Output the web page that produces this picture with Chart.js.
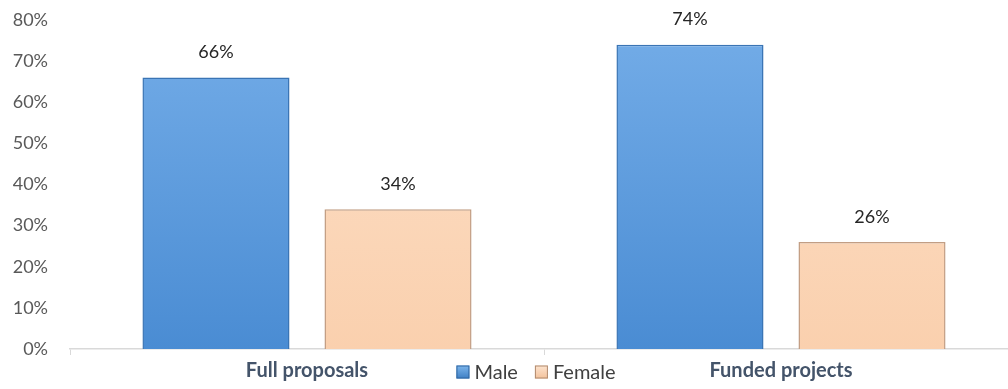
<!DOCTYPE html>
<html>
<head>
<meta charset="utf-8">
<script src="https://cdn.jsdelivr.net/npm/chart.js@4/dist/chart.umd.min.js"></script>
<style>
  body { margin: 0; background: #fff; overflow: hidden; }
  #wrap { width: 1018px; height: 389px; position: relative; }
</style>
</head>
<body>
<div id="wrap"><canvas id="chart"></canvas></div>
<script>
const categories = ['Full proposals', 'Funded projects'];
const seriesNames = ['Male', 'Female'];
const maleValues = [66, 74];
const femaleValues = [34, 26];
const yTicks = [0, 10, 20, 30, 40, 50, 60, 70, 80];

const FONT = 'Lato, "Open Sans", sans-serif';

// vertical gradient across the plot area
function grad(ctx, top, bottom) {
  const chart = ctx.chart;
  const area = chart.chartArea;
  if (!area) return top;
  const g = chart.ctx.createLinearGradient(0, area.top, 0, area.bottom);
  g.addColorStop(0, top);
  g.addColorStop(1, bottom);
  return g;
}

// value labels above each bar
const valueLabels = {
  id: 'valueLabels',
  afterDatasetsDraw(chart) {
    const c = chart.ctx;
    c.save();
    c.font = '18px ' + FONT;
    c.fillStyle = '#262626';
    c.textAlign = 'center';
    c.textBaseline = 'bottom';
    chart.data.datasets.forEach((ds, i) => {
      chart.getDatasetMeta(i).data.forEach((bar, j) => {
        c.fillText(ds.data[j] + '%', bar.x, bar.y - 16);
      });
    });
    c.restore();
  }
};

// legend sits on the category label row, between the two categories
const inlineLegend = {
  id: 'inlineLegend',
  afterDraw(chart) {
    const c = chart.ctx;
    const xs = chart.scales.x;
    const mid = (xs.getPixelForValue(0) + xs.getPixelForValue(1)) / 2 - 8;
    const y = 372;
    const box = 13, gapIcon = 5, gapItem = 17;
    c.save();
    c.font = '20px ' + FONT;
    c.textBaseline = 'middle';
    const items = chart.data.datasets.map(ds => ({ label: ds.label, colors: ds.legendColors }));
    let total = 0;
    items.forEach((it, k) => {
      it.w = box + gapIcon + c.measureText(it.label).width;
      total += it.w + (k > 0 ? gapItem : 0);
    });
    let x = mid - total / 2;
    items.forEach(it => {
      const g = c.createLinearGradient(0, y - box / 2, 0, y + box / 2);
      g.addColorStop(0, it.colors[0]);
      g.addColorStop(1, it.colors[1]);
      c.fillStyle = g;
      c.fillRect(x, y - box / 2, box, box);
      c.strokeStyle = it.colors[2];
      c.lineWidth = 1;
      c.strokeRect(x + 0.5, y - box / 2 + 0.5, box - 1, box - 1);
      c.fillStyle = '#404040';
      c.textAlign = 'left';
      c.fillText(it.label, x + box + gapIcon, y + 1);
      x += it.w + gapItem;
    });
    c.restore();
  }
};

new Chart(document.getElementById('chart'), {
  type: 'bar',
  data: {
    labels: categories,
    datasets: [
      {
        label: seriesNames[0],
        data: maleValues,
        backgroundColor: ctx => grad(ctx, '#74ADE8', '#4A8CD3'),
        borderColor: '#3A74B4',
        borderWidth: 1.5,
        legendColors: ['#7DB6EC', '#3F7FC4', '#2F65A0']
      },
      {
        label: seriesNames[1],
        data: femaleValues,
        backgroundColor: ctx => grad(ctx, '#FDE0C8', '#FAD0AE'),
        borderColor: '#C29E84',
        borderWidth: 1.5,
        legendColors: ['#FDE4CF', '#F3C29C', '#B08A6E']
      }
    ]
  },
  options: {
    responsive: true,
    maintainAspectRatio: false,
    animation: false,
    categoryPercentage: 0.768,
    barPercentage: 0.808,
    layout: { padding: { top: 20, left: 0, right: 0, bottom: 0 } },
    plugins: {
      legend: { display: false },
      tooltip: { enabled: false }
    },
    scales: {
      x: {
        offset: true,
        grid: {
          display: true,
          offset: true,
          drawOnChartArea: false,
          drawTicks: true,
          tickLength: 6,
          color: '#D9D9D9'
        },
        border: { display: true, color: '#D9D9D9', width: 1.5 },
        ticks: {
          color: '#44546A',
          font: { family: FONT, size: 20, weight: 'bold' },
          padding: 4
        },
        afterFit: s => { s.height = 40; }
      },
      y: {
        min: yTicks[0],
        max: yTicks[yTicks.length - 1],
        afterBuildTicks: s => { s.ticks = yTicks.map(v => ({ value: v })); },
        grid: { display: false, drawTicks: false },
        border: { display: false },
        ticks: {
          color: '#595959',
          font: { family: FONT, size: 18 },
          padding: 22,
          callback: v => v + '%'
        },
        afterFit: s => {
          s.width = 70;
          s.paddingTop = 0;
          s.paddingBottom = 0;
        }
      }
    }
  },
  plugins: [valueLabels, inlineLegend]
});
</script>
</body>
</html>
